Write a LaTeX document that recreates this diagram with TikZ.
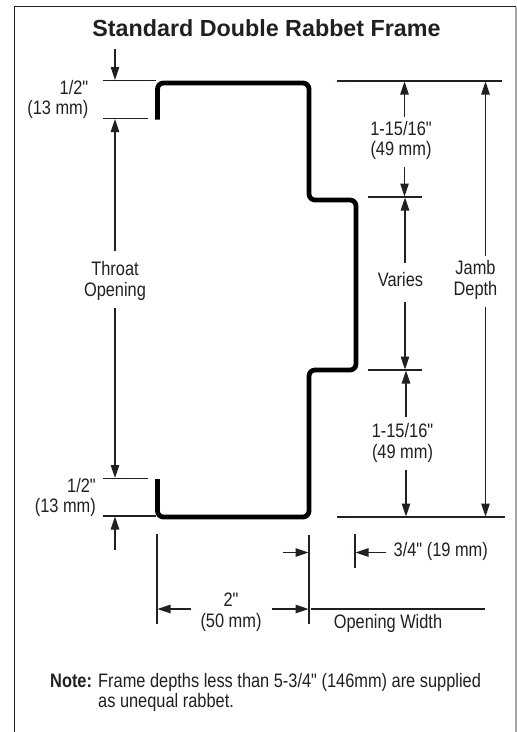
\documentclass[tikz,border=0pt]{standalone}
\usepackage{fontspec}
\setmainfont{Liberation Sans}
\newfontfamily\narrowfont[FakeStretch=0.84]{Liberation Sans}
\usetikzlibrary{arrows.meta}
\definecolor{inkc}{RGB}{35,31,32}
\tikzset{
  x=1pt,y=-1pt,
  framepath/.style={line width=4.8pt,draw=black,rounded corners=6pt,line join=round},
  tick/.style={draw=inkc,line width=1.15pt},
  dim/.style={draw=inkc,line width=1.15pt},
  dimarrow/.style={draw=inkc,line width=1.15pt,-{Triangle[width=8.5pt,length=13pt]}},
  lbl/.style={font=\narrowfont\fontsize{19.5}{20.5}\selectfont,text=inkc,align=center,inner sep=0pt,anchor=center},
  lblr/.style={lbl,align=right},
}
\begin{document}
\begin{tikzpicture}
\useasboundingbox (0,0) rectangle (517,732);
\fill[white] (0,0) rectangle (517,732);
% panel
\draw[draw=inkc,line width=1pt] (14.5,732) -- (14.5,6.5) -- (516,6.5);
\draw[draw=gray!70,line width=1.2pt] (516,6.5) -- (516,732);
\node[font=\bfseries\fontsize{23.3}{26}\selectfont,text=inkc,inner sep=0pt] (title) at (266.5,28) {Standard Double Rabbet Frame};
% frame
\coordinate (fa) at (157.5,119.5);
\coordinate (fb) at (157.5,83);
\coordinate (fc) at (309,83);
\coordinate (fd) at (309,200);
\coordinate (fe) at (356,200);
\coordinate (ff) at (356,370);
\coordinate (fg) at (309,370);
\coordinate (fh) at (309,517);
\coordinate (fi) at (157.5,517);
\coordinate (fj) at (157.5,479);
\draw[framepath] (fa) -- (fb) -- (fc) -- (fd) -- (fe) -- (ff) -- (fg) -- (fh) -- (fi) -- (fj);
% left ticks
\coordinate (lt1a) at (103,80.5); \coordinate (lt1b) at (156,80.5);
\coordinate (lt2a) at (103,118.5); \coordinate (lt2b) at (148,118.5);
\coordinate (lt3a) at (103,478.5); \coordinate (lt3b) at (148,478.5);
\coordinate (lt4a) at (103,516); \coordinate (lt4b) at (156,516);
\draw[tick] (lt1a) -- (lt1b);
\draw[tick] (lt2a) -- (lt2b);
\draw[tick] (lt3a) -- (lt3b);
\draw[tick] (lt4a) -- (lt4b);
% left dims
\coordinate (ld1) at (115,49); \coordinate (ld1e) at (115,80);
\draw[dimarrow] (ld1) -- (ld1e);
\coordinate (ld4) at (115,550); \coordinate (ld4e) at (115,516.5);
\draw[dimarrow] (ld4) -- (ld4e);
\node[lbl] (throat) at (115,281) {Throat\\Opening};
\coordinate (ld2e) at (115,119); \coordinate (ld3e) at (115,478);
\draw[dimarrow] (115,251) -- (ld2e);
\draw[dimarrow] (115,308) -- (ld3e);
\node[lblr,anchor=east] (halftop) at (88.5,99.5) {1/2"\\(13 mm)};
\node[lblr,anchor=east] (halfbot) at (96,497.5) {1/2"\\(13 mm)};
% right ticks
\coordinate (rt1a) at (337,81); \coordinate (rt1b) at (502,81);
\coordinate (rt2a) at (368,197); \coordinate (rt2b) at (422,197);
\coordinate (rt3a) at (368,370); \coordinate (rt3b) at (422,370);
\coordinate (rt4a) at (337,517); \coordinate (rt4b) at (505,517);
\draw[tick] (rt1a) -- (rt1b);
\draw[tick] (rt2a) -- (rt2b);
\draw[tick] (rt3a) -- (rt3b);
\draw[tick] (rt4a) -- (rt4b);
% right dims
\node[lbl] (d1) at (401,140.5) {1-15/16"\\(49 mm)};
\node[lbl] (vr) at (400.5,280) {Varies};
\node[lbl] (d2) at (402.5,443) {1-15/16"\\(49 mm)};
\node[lbl] (jd) at (475.5,280) {Jamb\\Depth};
\draw[dimarrow] (404.5,117) -- (404.5,81.5);
\draw[dimarrow] (404.5,167) -- (404.5,196.5);
\draw[dimarrow] (405,262.5) -- (405,197.5);
\draw[dimarrow] (405,302) -- (405,369.5);
\draw[dimarrow] (406,417) -- (406,370.5);
\draw[dimarrow] (406,470) -- (406,516.5);
\draw[dimarrow] (485.5,256) -- (485.5,81.5);
\draw[dimarrow] (485.5,306.5) -- (485.5,516.5);
% bottom
\coordinate (bv1a) at (157,534); \coordinate (bv1b) at (157,624);
\coordinate (bv2a) at (309,535); \coordinate (bv2b) at (309,623.5);
\coordinate (bv3a) at (355,534); \coordinate (bv3b) at (355,568);
\draw[tick] (bv1a) -- (bv1b);
\draw[tick] (bv2a) -- (bv2b);
\draw[tick] (bv3a) -- (bv3b);
\draw[dimarrow] (191,609) -- (157.5,609);
\draw[dimarrow] (272,609) -- (308.5,609);
\draw[dimarrow] (283,552.5) -- (308.5,552.5);
\draw[dimarrow] (386,552.5) -- (355.5,552.5);
\draw[dim] (311,609) -- (484.5,609);
\node[lbl] (two) at (231,612) {2"\\(50 mm)};
\node[lbl,anchor=west] (q) at (393.5,551) {3/4" (19 mm)};
\node[lbl] (ow) at (388,623.5) {Opening Width};
% note
\node[font=\narrowfont\bfseries\fontsize{19.5}{20.5}\selectfont,text=inkc,inner sep=0pt,anchor=base west] (note) at (50,687) {Note:};
\node[font=\narrowfont\fontsize{19.5}{20.5}\selectfont,text=inkc,inner sep=0pt,anchor=base west] (n1) at (98,687) {Frame depths less than 5-3/4" (146mm) are supplied};
\node[font=\narrowfont\fontsize{19.5}{20.5}\selectfont,text=inkc,inner sep=0pt,anchor=base west] (n2) at (98,707) {as unequal rabbet.};
\end{tikzpicture}
\end{document}
